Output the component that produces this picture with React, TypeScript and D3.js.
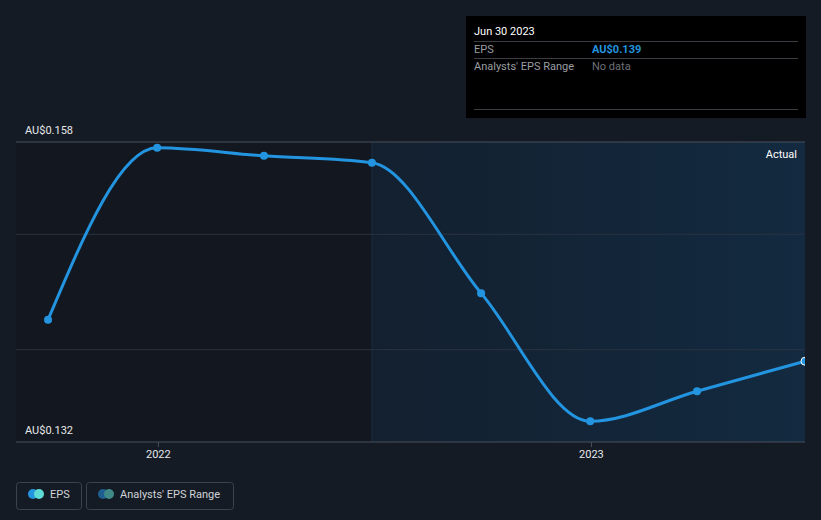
import React from "react";
import * as d3 from "d3";

const dates = ["2021-09-30", "2021-12-31", "2022-03-31", "2022-06-30", "2022-09-30", "2022-12-31", "2023-03-31", "2023-06-30"];
const eps = [0.1426, 0.1575, 0.1568, 0.1562, 0.1449, 0.1338, 0.1364, 0.139];
const yTicks = [0.14, 0.15];
const yLabels = ["AU$0.158", "AU$0.132"];
const xTickYears = ["2022-01-01", "2023-01-01"];
const xTickLabels = ["2022", "2023"];
const forecastStart = "2022-06-30";

const W = 821, H = 520;
const left = 16, right = 805, top = 142, bottom = 442;
const FONT = "Roboto, 'Noto Sans', sans-serif";

export default function App() {
  const parse = d3.timeParse("%Y-%m-%d");
  const pts = dates.map((d, i) => ({ date: parse(d)!, v: eps[i] }));
  const x = d3.scaleTime().domain([parse("2021-09-03")!, parse(dates[dates.length - 1])!]).range([left, right]);
  const y = d3.scaleLinear().domain([0.132, 0.158]).range([bottom, top]);
  const line = d3.line<{ date: Date; v: number }>().x(d => x(d.date)).y(d => y(d.v)).curve(d3.curveMonotoneX);
  const fx = x(parse(forecastStart)!);
  const last = pts[pts.length - 1];

  return (
    <svg width={W} height={H} style={{ position: "absolute", left: 0, top: 0, display: "block" }} fontFamily={FONT}>
      <defs>
        <linearGradient id="fc" x1="0" x2="1" y1="0" y2="0">
          <stop offset="0" stopColor="#13202f" />
          <stop offset="1" stopColor="#132a40" />
        </linearGradient>
      </defs>
      <rect x={0} y={0} width={W} height={H} fill="#151b25" />
      <rect x={left} y={top} width={fx - left} height={bottom - top} fill="#13171f" />
      <rect x={fx} y={top} width={right - fx} height={bottom - top} fill="url(#fc)" />
      <line x1={fx} x2={fx} y1={top} y2={bottom} stroke="#1d2e40" strokeWidth={1} />
      {yTicks.map(t => (
        <line key={t} x1={left} x2={right} y1={y(t)} y2={y(t)} stroke="#2a3340" strokeWidth={1} />
      ))}
      <line x1={left} x2={right} y1={top} y2={top} stroke="#4a515c" strokeWidth={1} />
      <line x1={left} x2={right} y1={bottom} y2={bottom} stroke="#4a515c" strokeWidth={1} />
      <text x={25} y={134} fill="#e6e8ea" fontSize={11}>{yLabels[0]}</text>
      <text x={25} y={434} fill="#e6e8ea" fontSize={11}>{yLabels[1]}</text>
      {xTickYears.map((d, i) => {
        const xx = x(parse(d)!);
        return (
          <g key={d}>
            <line x1={xx} x2={xx} y1={bottom} y2={bottom + 5} stroke="#4a515c" />
            <text x={xx} y={458} fill="#e6e8ea" fontSize={11} textAnchor="middle">{xTickLabels[i]}</text>
          </g>
        );
      })}
      <text x={797} y={158} fill="#ffffff" fontSize={11} textAnchor="end">Actual</text>
      <path d={line(pts) || ""} fill="none" stroke="#2394df" strokeWidth={3} />
      {pts.slice(0, -1).map((p, i) => (
        <circle key={i} cx={x(p.date)} cy={y(p.v)} r={4} fill="#2394df" />
      ))}
      <circle cx={x(last.date)} cy={y(last.v)} r={4} fill="#2394df" stroke="#ffffff" strokeWidth={1} />
      <rect x={805} y={top - 1} width={16} height={bottom - top + 3} fill="#151b25" />

      <rect x={466} y={16} width={340} height={102} fill="#000000" />
      <text x={474} y={35} fill="#ffffff" fontSize={11}>Jun 30 2023</text>
      <line x1={474} x2={798} y1={41.5} y2={41.5} stroke="#3a3d42" />
      <text x={474} y={53} fill="#9a9da2" fontSize={11}>EPS</text>
      <text x={592} y={53} fill="#2394df" fontSize={11} fontWeight="bold">AU$0.139</text>
      <line x1={474} x2={798} y1={58.5} y2={58.5} stroke="#3a3d42" />
      <text x={474} y={70} fill="#9a9da2" fontSize={11}>Analysts' EPS Range</text>
      <text x={592} y={70} fill="#6d7076" fontSize={11}>No data</text>
      <line x1={474} x2={798} y1={109.5} y2={109.5} stroke="#3a3d42" />

      <rect x={16.5} y={482.5} width={65} height={27} rx={3} fill="none" stroke="#3d434d" />
      <circle cx={33} cy={494} r={5} fill="#2394df" />
      <circle cx={39} cy={494} r={5} fill="#5fdbd5" />
      <text x={50} y={498} fill="#d0d3d7" fontSize={11}>EPS</text>
      <rect x={86.5} y={482.5} width={147} height={27} rx={3} fill="none" stroke="#3d434d" />
      <circle cx={103} cy={494} r={5} fill="#1f5f8f" />
      <circle cx={109} cy={494} r={5} fill="#3f8a87" />
      <text x={120} y={498} fill="#d0d3d7" fontSize={11}>Analysts' EPS Range</text>
    </svg>
  );
}
